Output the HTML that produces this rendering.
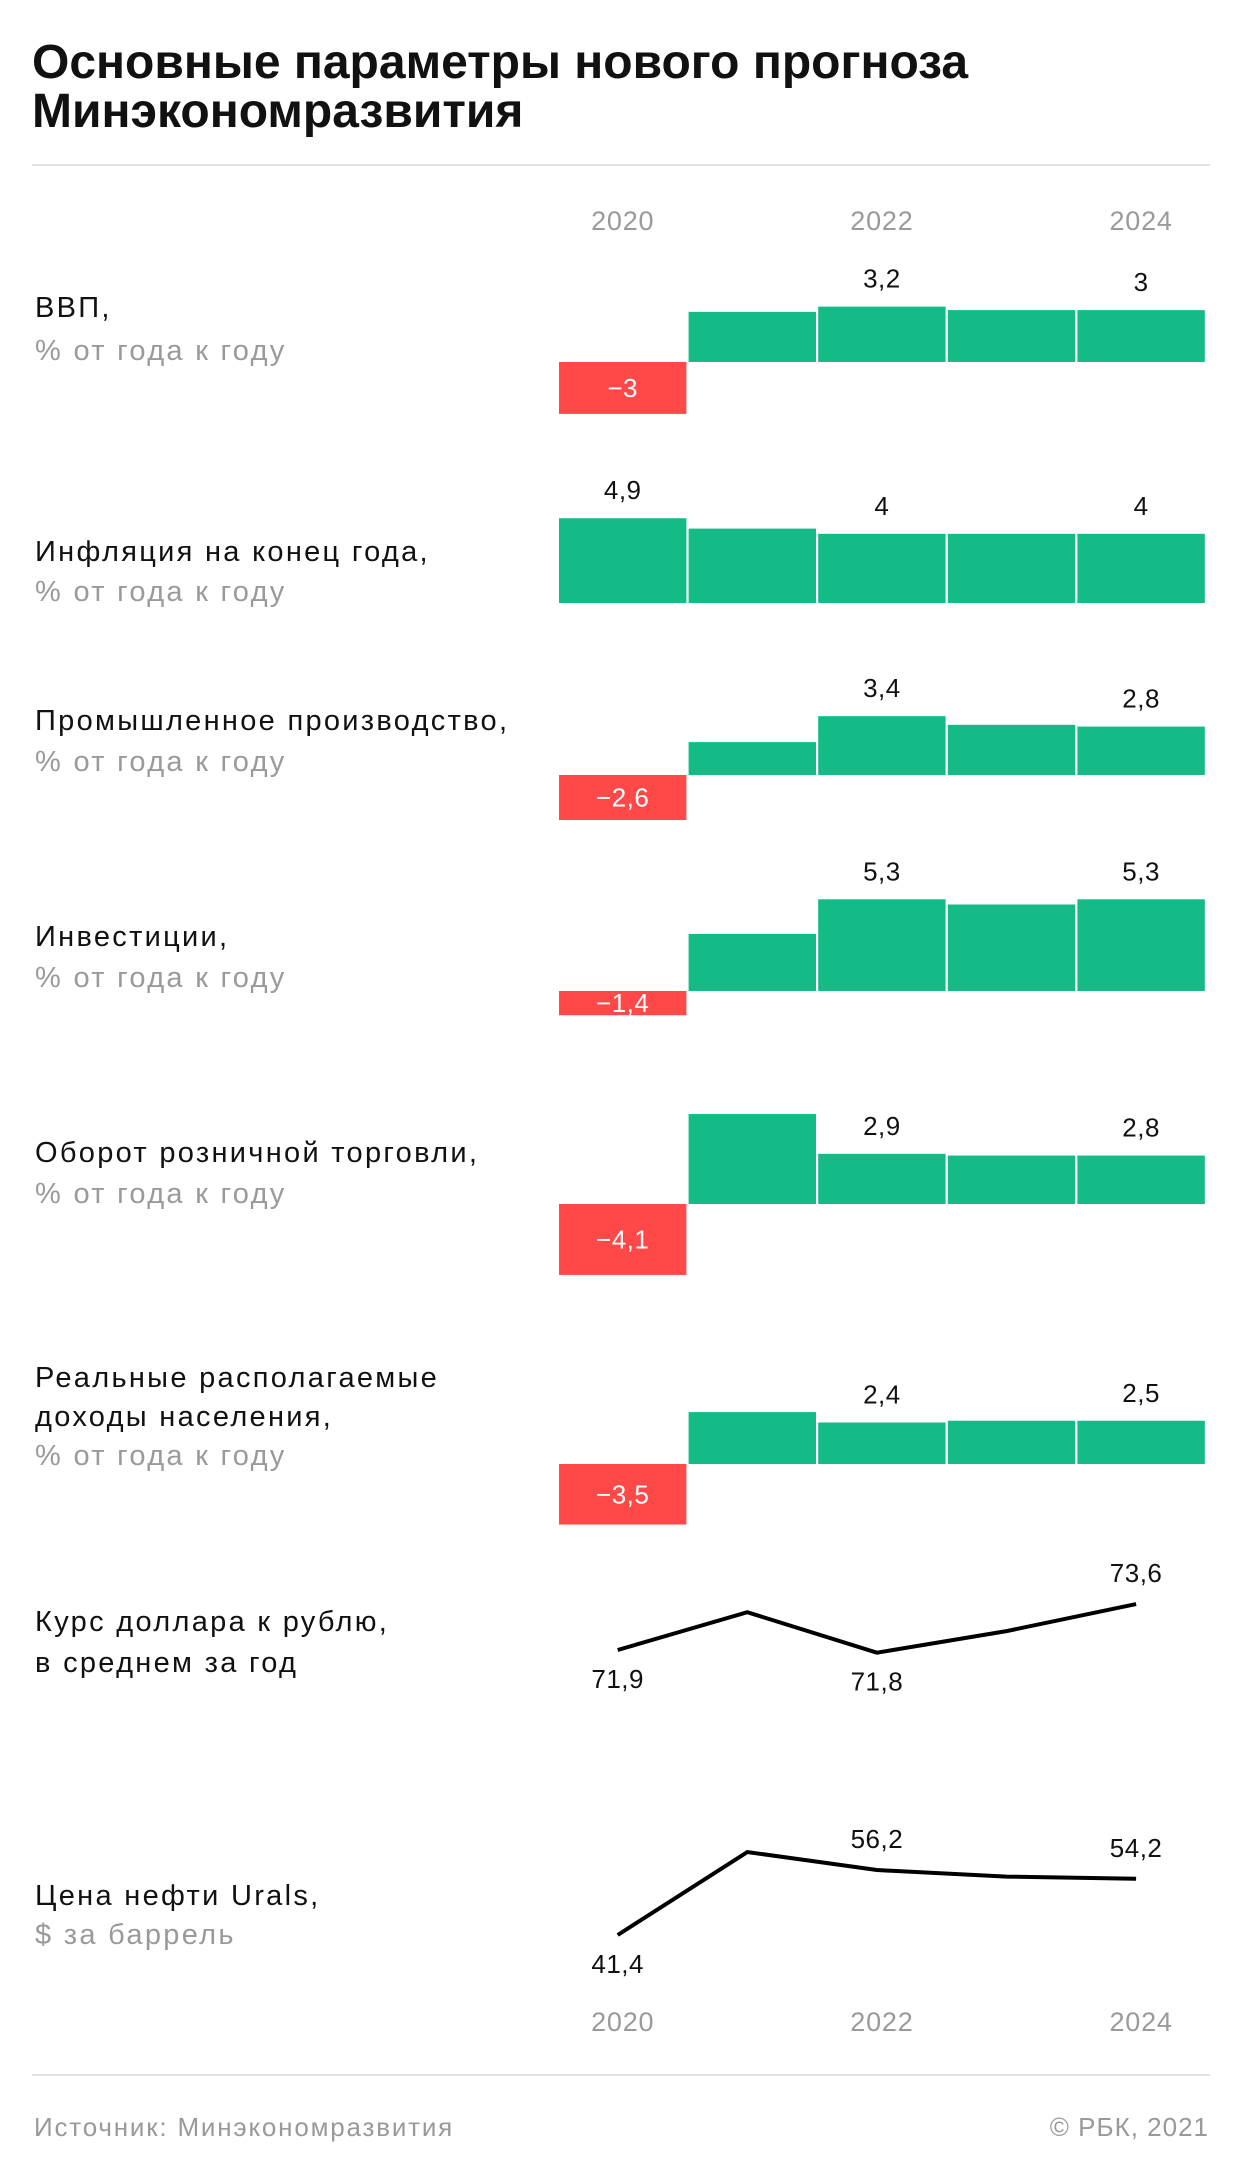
<!DOCTYPE html>
<html><head><meta charset="utf-8"><style>
html,body{margin:0;padding:0;background:#fff;}
svg{display:block;font-family:"Liberation Sans",sans-serif;}
</style></head><body>
<svg id="chart" width="1240" height="2178" viewBox="0 0 1240 2178" xmlns="http://www.w3.org/2000/svg">
<text x="32" y="78" font-size="48" font-weight="bold" fill="#111" letter-spacing="0">Основные параметры нового прогноза</text>
<text x="32" y="127" font-size="48" font-weight="bold" fill="#111" letter-spacing="0">Минэкономразвития</text>
<rect x="32" y="164" width="1178" height="2" fill="#e2e2e2"/>
<rect x="32" y="2074" width="1178" height="2" fill="#e2e2e2"/>
<text x="34" y="2136" font-size="26" fill="#999" letter-spacing="1.8">Источник: Минэкономразвития</text>
<text x="1209" y="2136" font-size="26" fill="#999" text-anchor="end" letter-spacing="1">© РБК, 2021</text>
<g id="g"></g>
</svg>
<script>
const years = ['2020','2021','2022','2023','2024'];
const yearTicks = [0, 2, 4];
const gdp = [-3, 2.9, 3.2, 3.0, 3];
const inflation = [4.9, 4.3, 4, 4, 4];
const industry = [-2.6, 1.9, 3.4, 2.9, 2.8];
const investment = [-1.4, 3.3, 5.3, 5.0, 5.3];
const retail = [-4.1, 5.2, 2.9, 2.8, 2.8];
const income = [-3.5, 3.0, 2.4, 2.5, 2.5];
const usd = [71.9, 73.3, 71.8, 72.6, 73.6];
const oil = [41.4, 60.3, 56.2, 54.7, 54.2];
const barLabelIdx = [0, 2, 4];
const usdLabels = ['71,9', '', '71,8', '', '73,6'];
const oilLabels = ['41,4', '', '56,2', '', '54,2'];

const NS = 'http://www.w3.org/2000/svg';
const g = document.getElementById('g');
function el(tag, attrs, txt){const e=document.createElementNS(NS,tag);for(const k in attrs)e.setAttribute(k,attrs[k]);if(txt!==undefined)e.textContent=txt;g.appendChild(e);return e;}
const X0 = 559, PITCH = 129.6, BW = 127.4;
const xLeft = i => X0 + i*PITCH;
const xMid = i => X0 + i*PITCH + BW/2;
const UNIT = 17.3;
const fmt = v => (v<0?'\u2212':'') + String(Math.abs(v)).replace('.', ',');

[221, 2022].forEach((yy, k) => {
  yearTicks.forEach(i => {
    const t = el('text', {x: xMid(i), y: yy+9, 'font-size': 27, fill: '#9a9a9a', 'text-anchor': 'middle', 'letter-spacing': 0.8}, years[i]);
    
    
  });
});

function labelBlock(name, lines, ys){
  lines.forEach((ln, j) => {
    const t = el('text', {x: 35, y: ys[j]+10, 'font-size': 29, 'letter-spacing': 2.3, fill: ln.gray ? '#9a9a9a' : '#111'}, ln.t);
    
    
  });
}
const UNIT_TXT = '% от года к году';

function barChart(name, data, base){
  data.forEach((v, i) => {
    const h = Math.abs(v)*UNIT;
    const y = v >= 0 ? base - h : base;
    const r = el('rect', {x: xLeft(i), y: y, width: BW, height: h, fill: v >= 0 ? '#14bb87' : '#ff4848'});
    
    
    if (v < 0) {
      const t = el('text', {x: xMid(i), y: base + h/2 + 9, 'font-size': 26, 'letter-spacing': 0.5, fill: '#fff', 'text-anchor': 'middle'}, fmt(v));
      
      
    } else if (barLabelIdx.includes(i)) {
      const t = el('text', {x: xMid(i), y: y - 19, 'font-size': 26, 'letter-spacing': 0.5, fill: '#111', 'text-anchor': 'middle'}, fmt(v));
      
      
    }
  });
}

labelBlock('gdp', [{t:'ВВП,'},{t:UNIT_TXT,gray:1}], [307, 350]);
barChart('gdp', gdp, 362);
labelBlock('inflation', [{t:'Инфляция на конец года,'},{t:UNIT_TXT,gray:1}], [551, 591]);
barChart('inflation', inflation, 603);
labelBlock('industry', [{t:'Промышленное производство,'},{t:UNIT_TXT,gray:1}], [720, 761]);
barChart('industry', industry, 775);
labelBlock('investment', [{t:'Инвестиции,'},{t:UNIT_TXT,gray:1}], [936, 977]);
barChart('investment', investment, 991);
labelBlock('retail', [{t:'Оборот розничной торговли,'},{t:UNIT_TXT,gray:1}], [1152, 1193]);
barChart('retail', retail, 1204);
labelBlock('income', [{t:'Реальные располагаемые'},{t:'доходы населения,'},{t:UNIT_TXT,gray:1}], [1377, 1416, 1455]);
barChart('income', income, 1464);
labelBlock('usd', [{t:'Курс доллара к рублю,'},{t:'в среднем за год'}], [1621, 1662]);
labelBlock('oil', [{t:'Цена нефти Urals,'},{t:'$ за баррель',gray:1}], [1895, 1934]);

function lineChart(name, data, labels, refV, refY, pxPerUnit, below){
  const yOf = v => refY - (v - refV)*pxPerUnit;
  const pts = data.map((v,i) => (xMid(i)-5) + ',' + yOf(v)).join(' ');
  const p = el('polyline', {points: pts, fill: 'none', stroke: '#000', 'stroke-width': 4, 'stroke-linejoin': 'miter'});
  
  
  data.forEach((v,i) => {
    if (!labels[i]) return;
    const y = yOf(v);
    const ty = below[i] ? y + 38 : y - 22;
    const t = el('text', {x: xMid(i)-5, y: ty, 'font-size': 26, 'letter-spacing': 0.5, fill: '#111', 'text-anchor': 'middle'}, labels[i]);
    
    
  });
}
lineChart('usd', usd, usdLabels, 71.9, 1650, 27, [1,0,1,0,0]);
lineChart('oil', oil, oilLabels, 41.4, 1935, 4.39, [1,0,0,0,0]);
</script>
</body></html>
